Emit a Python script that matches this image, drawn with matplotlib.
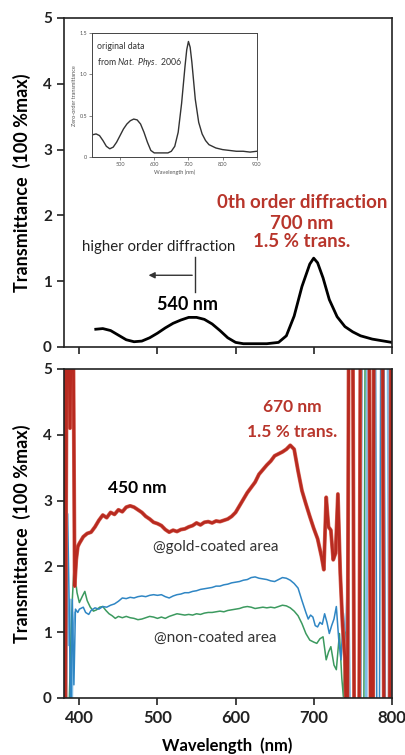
import matplotlib
matplotlib.use("Agg")
import matplotlib.pyplot as plt

plt.rcParams['font.family'] = ['Lato', 'DejaVu Sans']
plt.rcParams['mathtext.fontset'] = 'custom'
plt.rcParams['mathtext.it'] = 'Lato:italic'
plt.rcParams['mathtext.rm'] = 'Lato'

# ---- data ----
# top panel: zero-order transmittance (black)
top_wl = [421, 430, 440, 450, 460, 470, 480, 490, 500, 510, 520, 530, 540, 550,
          560, 570, 580, 590, 600, 610, 620, 640, 655, 665, 675, 685, 695, 700,
          705, 712, 720, 730, 740, 750, 760, 775, 790, 800]
top_t = [0.27, 0.28, 0.25, 0.18, 0.11, 0.08, 0.09, 0.14, 0.21, 0.29, 0.36, 0.41,
         0.45, 0.45, 0.42, 0.35, 0.25, 0.14, 0.07, 0.05, 0.05, 0.05, 0.07, 0.17,
         0.47, 0.92, 1.26, 1.35, 1.28, 1.05, 0.72, 0.46, 0.31, 0.23, 0.17, 0.12,
         0.09, 0.07]

# inset: original data
inset_wl = [420, 430, 440, 450, 460, 470, 480, 490, 500, 510, 520, 530, 540, 550,
            560, 570, 580, 590, 600, 610, 620, 630, 640, 650, 660, 670, 680, 690,
            695, 700, 705, 710, 720, 730, 740, 750, 760, 780, 800, 820, 840, 860,
            880, 900]
inset_t = [0.27, 0.28, 0.26, 0.2, 0.13, 0.1, 0.12, 0.18, 0.26, 0.34, 0.4, 0.44,
           0.46, 0.45, 0.4, 0.3, 0.18, 0.08, 0.05, 0.05, 0.05, 0.05, 0.05, 0.07,
           0.13, 0.3, 0.65, 1.1, 1.3, 1.4, 1.33, 1.15, 0.7, 0.42, 0.28, 0.2, 0.15,
           0.11, 0.09, 0.08, 0.07, 0.07, 0.06, 0.07]

# bottom panel: gold-coated area (red)
gold_wl = [380, 382, 384, 386, 388, 390, 392, 394, 396, 398, 400, 405, 410, 415,
           420, 425, 430, 435, 440, 445, 450, 455, 460, 465, 470, 475, 480, 485,
           490, 495, 500, 505, 510, 515, 520, 525, 530, 535, 540, 545, 550, 555,
           560, 565, 570, 575, 580, 585, 590, 595, 600, 605, 610, 615, 620, 625,
           630, 635, 640, 645, 650, 655, 660, 665, 670, 675, 680, 685, 690, 695,
           700, 705, 710, 713, 716, 719, 722, 725, 728, 731, 734, 737, 740, 743,
           745, 750, 752, 758, 760, 771, 773, 776, 777, 788, 790, 797, 799]
gold_t = [6, -0.5, 6, 6, 4.1, 6, 6, 1.7, 2.1, 2.3, 2.35, 2.45, 2.5, 2.52,
          2.6, 2.7, 2.78, 2.74, 2.82, 2.79, 2.86, 2.83, 2.9, 2.92, 2.9, 2.86,
          2.82, 2.76, 2.72, 2.67, 2.65, 2.62, 2.56, 2.52, 2.55, 2.53, 2.56, 2.57,
          2.6, 2.62, 2.66, 2.63, 2.67, 2.68, 2.66, 2.69, 2.68, 2.7, 2.72, 2.76,
          2.82, 2.92, 3.02, 3.12, 3.2, 3.28, 3.4, 3.47, 3.54, 3.6, 3.68, 3.71,
          3.74, 3.78, 3.84, 3.78, 3.45, 3.15, 2.95, 2.76, 2.58, 2.42, 2.15, 1.95,
          3.05, 2.6, 2.55, 2.1, 2.2, 3.1, 1.9, 1.1, 0.6, -1,
          6, 6, -1, -1, 6, 6, -1, -1, 6, 6, -1, -1, 6]

# bottom panel: non-coated area (blue)
blue_wl = [383, 385, 387, 389, 391, 393, 395, 398, 400, 405, 408, 412, 415, 420,
           425, 430, 435, 440, 445, 450, 455, 460, 465, 470, 475, 480, 485, 490,
           495, 500, 505, 510, 515, 520, 525, 530, 535, 540, 545, 550, 555, 560,
           565, 570, 575, 580, 585, 590, 595, 600, 605, 610, 615, 620, 625, 630,
           635, 640, 645, 650, 655, 660, 665, 670, 675, 680, 685, 690, 693, 696,
           699, 702, 705, 708, 711, 714, 717, 720, 723, 726, 729, 732, 735, 738,
           741, 743, 760, 762, 779, 781, 784, 786, 790, 792, 799, 800]
blue_t = [-1, 2.8, 1.4, -0.5, 1.5, 0.2, 1.35, 1.3, 1.35, 1.38, 1.3, 1.27, 1.33,
          1.37, 1.35, 1.39, 1.38, 1.41, 1.43, 1.47, 1.52, 1.51, 1.53, 1.52, 1.54,
          1.55, 1.54, 1.56, 1.57, 1.56, 1.57, 1.54, 1.52, 1.55, 1.57, 1.58, 1.6,
          1.6, 1.62, 1.63, 1.65, 1.66, 1.67, 1.68, 1.7, 1.7, 1.72, 1.73, 1.75,
          1.76, 1.77, 1.79, 1.8, 1.83, 1.84, 1.82, 1.81, 1.8, 1.78, 1.77, 1.8,
          1.83, 1.82, 1.79, 1.74, 1.67, 1.48, 1.3, 1.2, 1.26, 1.23, 1.1, 1.08,
          1.15, 1.12, 1.28, 1.15, 0.98, 1.1, 1.2, 1.39, 0.9, 0.58, 1.29, 0.8,
          -1, -1, 6, 6, -1, -1, 6, 6, -1, -1, 2]

# bottom panel: second non-coated scan (green)
green_wl = [386, 389, 391, 393, 395, 397, 400, 404, 407, 410, 414, 418, 422, 426,
            430, 434, 438, 442, 446, 450, 455, 460, 465, 470, 475, 480, 485, 490,
            495, 500, 505, 510, 515, 520, 525, 530, 535, 540, 545, 550, 555, 560,
            565, 570, 575, 580, 585, 590, 595, 600, 605, 610, 615, 620, 625, 630,
            635, 640, 645, 650, 655, 660, 665, 670, 675, 680, 685, 690, 695, 700,
            704, 708, 712, 716, 719, 722, 726, 729, 733, 736, 738, 741, 744, 764,
            766, 800]
green_t = [-0.5, 0.8, 1.5, 1.95, 1.8, 1.6, 1.45, 1.55, 1.62, 1.48, 1.38, 1.32,
           1.34, 1.38, 1.39, 1.33, 1.28, 1.25, 1.21, 1.24, 1.22, 1.24, 1.22, 1.21,
           1.19, 1.2, 1.22, 1.24, 1.23, 1.21, 1.23, 1.21, 1.24, 1.26, 1.28, 1.27,
           1.26, 1.27, 1.26, 1.28, 1.27, 1.29, 1.3, 1.3, 1.31, 1.32, 1.31, 1.33,
           1.34, 1.35, 1.36, 1.38, 1.39, 1.38, 1.36, 1.37, 1.38, 1.37, 1.38, 1.37,
           1.39, 1.41, 1.4, 1.37, 1.32, 1.25, 1.13, 0.98, 0.88, 0.85, 0.83, 0.9,
           0.93, 0.58, 0.7, 0.78, 0.5, 0.43, 0.98, 0.3, 0.02, 1.0, -1, -1, 6, 6]

# light blue fragments (edges of the scan)
lb_left_wl = [382, 384, 386, 388, 390, 392, 394]
lb_left_t = [-1, 2.6, 0.8, 1.5, -1, 1.0, 1.3]
lb_right_wl = [736, 740, 744, 747, 767, 769, 795, 797]
lb_right_t = [1.3, 0.5, 1.8, -1, -1, 6, 6, -1]

xticks = [400, 500, 600, 700, 800]
yticks = [0, 1, 2, 3, 4, 5]

RED = '#b8352b'
ylabel = 'Transmittance  (100 %max)'

fig = plt.figure(figsize=(4.06, 7.55), dpi=100)
ax1 = fig.add_axes([0.157, 0.5404, 0.808, 0.4358])
ax2 = fig.add_axes([0.157, 0.0755, 0.808, 0.4358])

for ax in (ax1, ax2):
    ax.set_xlim(380, 800)
    ax.set_ylim(0, 5)
    ax.set_xticks(xticks)
    ax.set_yticks(yticks)
    ax.tick_params(direction='out', length=5, width=1.2, colors='#222222',
                   labelsize=11)
    for s in ax.spines.values():
        s.set_linewidth(1.2)
        s.set_color('#222222')
    for lbl in ax.get_yticklabels() + ax.get_xticklabels():
        lbl.set_fontweight('bold')

ax1.tick_params(labelbottom=False)
ax2.tick_params(axis='x', labelsize=12)

# top panel
ax1.plot(top_wl, top_t, color='black', lw=2)
ax1.text(685, 2.19, '0th order diffraction', color=RED, fontsize=13.5,
         fontweight='bold', ha='center', va='center')
ax1.text(685, 1.88, '700 nm', color=RED, fontsize=13.5,
         fontweight='bold', ha='center', va='center')
ax1.text(685, 1.60, '1.5 % trans.', color=RED, fontsize=13.5,
         fontweight='bold', ha='center', va='center')
ax1.text(501, 1.52, 'higher order diffraction', color='#222222', fontsize=10.8,
         ha='center', va='center')
ax1.plot([548, 548], [0.84, 1.37], color='#333333', lw=1)
ax1.annotate('', xy=(485, 1.09), xytext=(548, 1.09),
             arrowprops=dict(arrowstyle='-|>', color='#333333', lw=1,
                             mutation_scale=9))
ax1.text(539, 0.64, '540 nm', color='black', fontsize=13,
         fontweight='bold', ha='center', va='center')

# inset
axi = fig.add_axes([0.2266, 0.792, 0.406, 0.164])
axi.plot(inset_wl, inset_t, color='#333333', lw=1)
axi.set_xlim(418, 900)
axi.set_ylim(0, 1.5)
axi.set_xticks([500, 600, 700, 800, 900])
axi.set_yticks([0, 0.5, 1.0, 1.5])
axi.set_yticklabels(['0', '0.5', '1.0', '1.5'])
axi.tick_params(labelsize=4, length=2, width=0.5, colors='#555555', pad=1.5)
for s in axi.spines.values():
    s.set_linewidth(0.7)
    s.set_color('#444444')
axi.set_xlabel('Wavelength (nm)', fontsize=4, color='#555555', labelpad=1.5)
axi.set_ylabel('Zero-order transmittance', fontsize=4, color='#555555',
               labelpad=2)
axi.text(0.03, 0.89, 'original data', transform=axi.transAxes, fontsize=6.3,
         color='#333333', va='center')
axi.text(0.03, 0.76, 'from $\\it{Nat.\\ Phys.}$ 2006', transform=axi.transAxes,
         fontsize=6.3, color='#333333', va='center')

# bottom panel
ax2.plot(lb_left_wl, lb_left_t, color='#7fbde6', lw=1.2)
ax2.plot(lb_right_wl, lb_right_t, color='#7fbde6', lw=2)
ax2.plot(green_wl, green_t, color='#3c9a5f', lw=1.1)
ax2.plot(blue_wl, blue_t, color='#2f86c4', lw=1.1)
ax2.plot(gold_wl, gold_t, color='#d86a5c', lw=2.8)
ax2.plot(gold_wl, gold_t, color='#b82a20', lw=2)

ax2.text(673, 4.42, '670 nm', color=RED, fontsize=12.5,
         fontweight='bold', ha='center', va='center')
ax2.text(673, 4.04, '1.5 % trans.', color=RED, fontsize=12.5,
         fontweight='bold', ha='center', va='center')
ax2.text(474, 3.19, '450 nm', color='black', fontsize=12.5,
         fontweight='bold', ha='center', va='center')
ax2.text(574, 2.29, '@gold-coated area', color='#333333', fontsize=11,
         ha='center', va='center')
ax2.text(574, 0.91, '@non-coated area', color='#333333', fontsize=11,
         ha='center', va='center')

fig.text(0.054, 0.758, ylabel, rotation=90, fontsize=13, fontweight='bold',
         ha='center', va='center')
fig.text(0.054, 0.2934, ylabel, rotation=90, fontsize=13, fontweight='bold',
         ha='center', va='center')
fig.text(0.56, 0.012, 'Wavelength  (nm)', fontsize=12, fontweight='bold',
         ha='center', va='center')

fig.savefig('out.png', dpi=100)
